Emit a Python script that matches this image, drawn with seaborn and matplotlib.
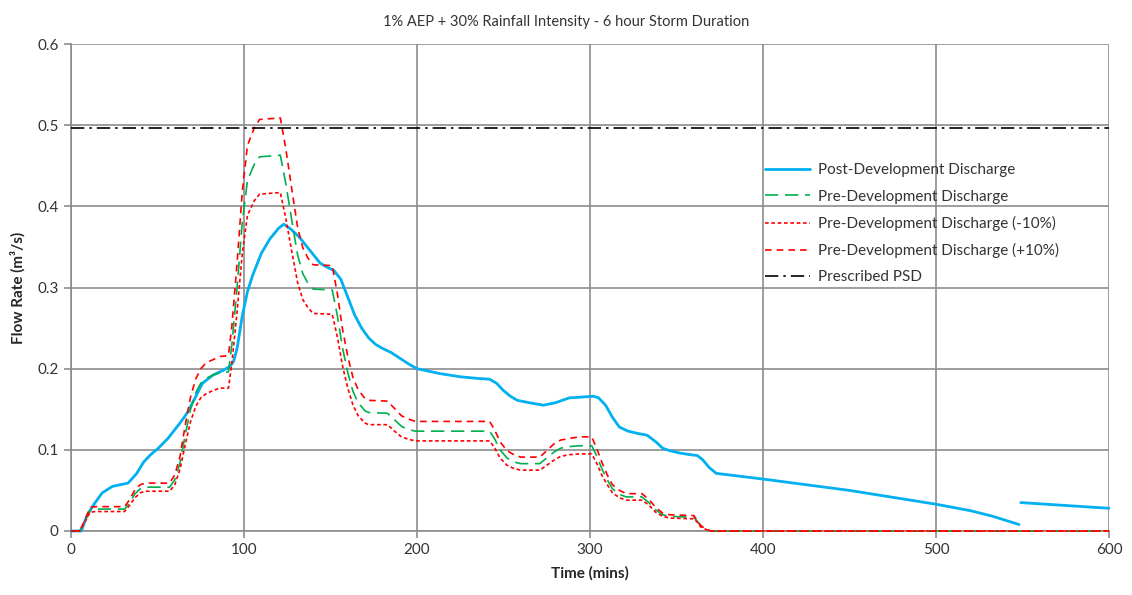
import numpy as np
import pandas as pd
import matplotlib
matplotlib.use("Agg")
import matplotlib.pyplot as plt
import seaborn as sns

# ---------------- data ----------------
title = "1% AEP + 30% Rainfall Intensity - 6 hour Storm Duration"
x_label = "Time (mins)"
y_label = "Flow Rate (m³/s)"

post_t = [0, 6, 9, 13, 18, 24, 33, 38, 42, 46, 50, 56, 63, 67, 71, 76, 82, 88, 92, 94,
          96, 99, 102, 105, 110, 115, 120, 123, 127, 132, 138, 144, 148, 152, 156, 160,
          164, 168, 172, 176, 180, 185, 190, 195, 200, 213, 225, 235, 242, 246, 250, 254,
          258, 265, 273, 280, 288, 295, 302, 305, 309, 313, 317, 322, 328, 333, 338, 342,
          346, 352, 358, 362, 365, 369, 373, 400, 450, 500, 520, 533, 548]
post_q = [0, 0, 0.018, 0.032, 0.047, 0.055, 0.059, 0.071, 0.085, 0.094, 0.101, 0.114,
          0.133, 0.145, 0.161, 0.182, 0.192, 0.198, 0.203, 0.209, 0.225, 0.265, 0.295,
          0.315, 0.342, 0.360, 0.373, 0.378, 0.372, 0.362, 0.346, 0.330, 0.325, 0.321,
          0.310, 0.288, 0.266, 0.250, 0.238, 0.230, 0.225, 0.220, 0.213, 0.206, 0.200,
          0.194, 0.190, 0.188, 0.187, 0.182, 0.173, 0.166, 0.161, 0.158, 0.155, 0.158,
          0.164, 0.165, 0.166, 0.164, 0.155, 0.140, 0.128, 0.123, 0.120, 0.118, 0.110,
          0.102, 0.099, 0.096, 0.094, 0.093, 0.088, 0.078, 0.071, 0.064, 0.050, 0.033,
          0.025, 0.018, 0.008]
post_t2 = [549, 600]
post_q2 = [0.035, 0.028]

pre_t = [0, 5, 8, 11, 14, 31, 34, 37, 40, 43, 57, 60, 63, 66, 69, 72, 75, 78, 82, 86,
         91, 93, 96, 99, 102, 106, 109, 121, 124, 128, 131, 134, 137, 140, 151, 154, 157,
         160, 163, 166, 170, 172, 183, 187, 191, 195, 199, 242, 245, 248, 252, 256, 260,
         271, 275, 279, 283, 288, 294, 301, 304, 307, 310, 313, 317, 321, 330, 334, 338,
         342, 346, 360, 362, 364, 367, 370, 600]
pre_q = [0, 0, 0.012, 0.026, 0.027, 0.027, 0.035, 0.046, 0.052, 0.054, 0.054, 0.063,
         0.084, 0.118, 0.149, 0.170, 0.182, 0.188, 0.192, 0.195, 0.196, 0.230, 0.300,
         0.380, 0.432, 0.452, 0.461, 0.463, 0.430, 0.378, 0.340, 0.317, 0.305, 0.298,
         0.297, 0.265, 0.225, 0.195, 0.172, 0.158, 0.148, 0.146, 0.145, 0.137, 0.129,
         0.125, 0.123, 0.123, 0.113, 0.100, 0.090, 0.085, 0.083, 0.083, 0.090, 0.097,
         0.102, 0.104, 0.105, 0.105, 0.092, 0.076, 0.063, 0.052, 0.045, 0.042, 0.042,
         0.035, 0.026, 0.020, 0.018, 0.017, 0.012, 0.006, 0.002, 0.0, 0.0]
pre_minus_q = [0, 0, 0.011, 0.023, 0.024, 0.024, 0.032, 0.041, 0.047, 0.049, 0.049, 0.057,
               0.076, 0.106, 0.134, 0.153, 0.164, 0.169, 0.173, 0.176, 0.176, 0.207, 0.270,
               0.342, 0.389, 0.407, 0.415, 0.417, 0.387, 0.340, 0.306, 0.285, 0.275, 0.268,
               0.267, 0.239, 0.203, 0.176, 0.155, 0.142, 0.133, 0.131, 0.131, 0.123, 0.116,
               0.113, 0.111, 0.111, 0.102, 0.090, 0.081, 0.077, 0.075, 0.075, 0.081, 0.087,
               0.092, 0.094, 0.095, 0.095, 0.083, 0.068, 0.057, 0.047, 0.041, 0.038, 0.038,
               0.032, 0.023, 0.018, 0.016, 0.015, 0.011, 0.005, 0.002, 0.0, 0.0]
pre_plus_q = [0, 0, 0.013, 0.029, 0.030, 0.030, 0.039, 0.051, 0.057, 0.059, 0.059, 0.069,
              0.092, 0.130, 0.164, 0.187, 0.200, 0.207, 0.211, 0.215, 0.216, 0.253, 0.330,
              0.418, 0.475, 0.497, 0.507, 0.509, 0.473, 0.416, 0.374, 0.349, 0.336, 0.328,
              0.327, 0.292, 0.248, 0.215, 0.189, 0.174, 0.163, 0.161, 0.160, 0.151, 0.142,
              0.138, 0.135, 0.135, 0.124, 0.110, 0.099, 0.094, 0.091, 0.091, 0.099, 0.107,
              0.112, 0.114, 0.116, 0.116, 0.101, 0.084, 0.069, 0.057, 0.050, 0.046, 0.046,
              0.039, 0.029, 0.022, 0.020, 0.019, 0.013, 0.007, 0.002, 0.0, 0.0]

psd_t = [0, 600]
psd_q = [0.496, 0.496]

labels = ["Post-Development Discharge", "Pre-Development Discharge",
          "Pre-Development Discharge (-10%)", "Pre-Development Discharge (+10%)",
          "Prescribed PSD"]

x_ticks = [0, 100, 200, 300, 400, 500, 600]
y_ticks = [0, 0.1, 0.2, 0.3, 0.4, 0.5, 0.6]

# ---------------- style ----------------
sns.set_theme(style="white")
plt.rcParams["font.family"] = ["Lato", "DejaVu Sans"]

grid_c = "#8c8c8c"
fig = plt.figure(figsize=(11.32, 5.95), dpi=100)
ax = fig.add_axes([71 / 1132, 1 - 531 / 595, (1109 - 71) / 1132, (531 - 44) / 595])

blue = "#00B0F0"
green = "#00B050"
red = "#FF0000"

common = dict(ax=ax, estimator=None, sort=False, zorder=4, clip_on=False)
sns.lineplot(x=post_t, y=post_q, color=blue, lw=2.0, label=labels[0], **common)
sns.lineplot(x=post_t2, y=post_q2, color=blue, lw=2.0, legend=False, **common)
sns.lineplot(x=pre_t, y=pre_q, color=green, lw=1.2, label=labels[1],
             linestyle=(0, (8, 4)), **common)
sns.lineplot(x=pre_t, y=pre_minus_q, color=red, lw=1.2, label=labels[2],
             linestyle=(0, (2.2, 1.6)), **common)
sns.lineplot(x=pre_t, y=pre_plus_q, color=red, lw=1.2, label=labels[3],
             linestyle=(0, (4, 3)), **common)
sns.lineplot(x=psd_t, y=psd_q, color="black", lw=1.2, label=labels[4],
             linestyle=(0, (8, 3, 1.5, 3)), **common)

ax.set_xlim(0, 600)
ax.set_ylim(0, 0.6)
ax.set_xticks(x_ticks)
ax.set_yticks(y_ticks)
ax.set_xticklabels([str(v) for v in x_ticks])
ax.set_yticklabels(["0" if v == 0 else f"{v:.1f}" for v in y_ticks])
ax.grid(True, color=grid_c, lw=1.2)
ax.set_axisbelow(True)
for s in ax.spines.values():
    s.set_visible(False)
for side in ("left", "bottom"):
    ax.spines[side].set_visible(True)
    ax.spines[side].set_color(grid_c)
    ax.spines[side].set_linewidth(1.2)
    ax.spines[side].set_zorder(1.5)
ax.tick_params(axis="both", direction="out", length=5, width=1.2, color=grid_c,
               labelsize=11, labelcolor="#333333", pad=4, left=True, bottom=True)

ax.set_xlabel(x_label, fontsize=11, fontweight="bold", labelpad=6)
ax.set_ylabel(y_label, fontsize=11, fontweight="bold", labelpad=8)
fig.suptitle(title, fontsize=10.5, y=0.975, color="#333333")

leg = ax.legend(loc="upper left", bbox_to_anchor=(0.655, 0.783), frameon=False,
                fontsize=11, handlelength=3.0, labelspacing=0.8, handletextpad=0.5)
for txt in leg.get_texts():
    txt.set_color("#333333")

fig.savefig("out.png", dpi=100)
